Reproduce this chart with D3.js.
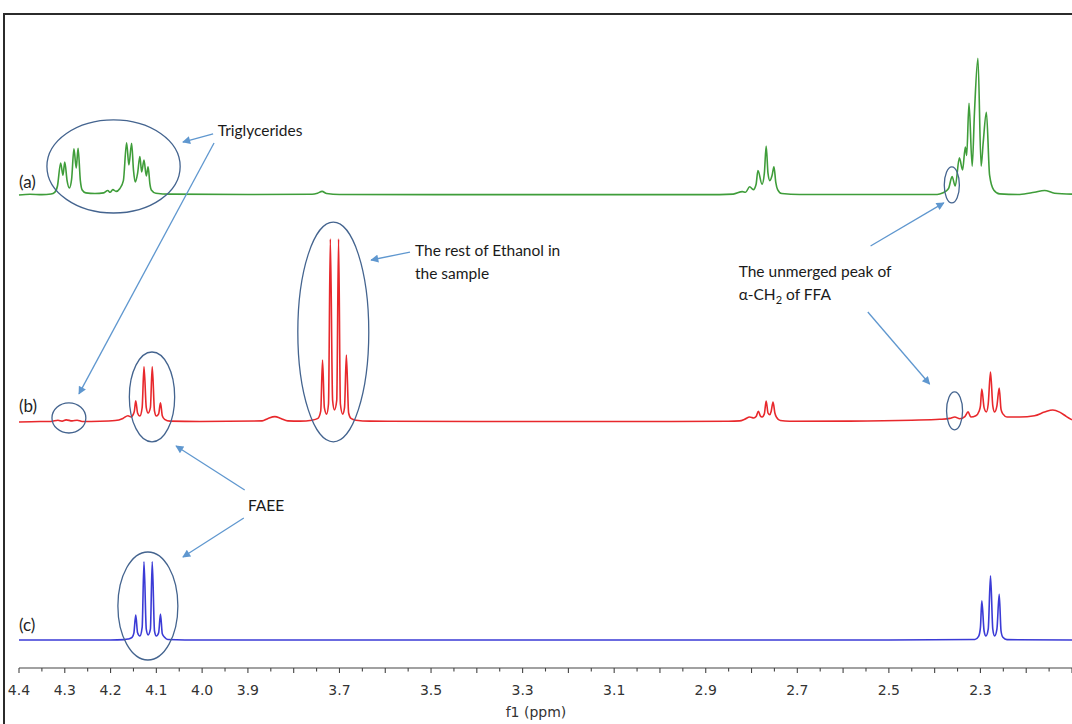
<!DOCTYPE html>
<html>
<head>
<meta charset="utf-8">
<script src="https://cdn.jsdelivr.net/npm/d3@7"></script>
<style>
  html, body { margin: 0; padding: 0; background: #fff; }
  svg { display: block; }
</style>
</head>
<body>
<svg id="chart" width="1072" height="724"></svg>
<script>
// ---------- data: 1H NMR traces, [chemical shift (ppm), relative intensity] ----------
const traceNames = ["(a)", "(b)", "(c)"];
const traceColors = ["#3f9d3a", "#e8282c", "#3b3bd6"];

// (a) oil / triglycerides
const spectrumA = [
  [4.400,0.0],[4.376,0.4],[4.350,0.2],[4.330,0.6],[4.322,1.5],[4.316,5],[4.309,17.8],[4.304,11],
  [4.300,18.3],[4.295,8],[4.290,3.9],[4.285,9],[4.280,25.6],[4.275,15],[4.271,26],[4.266,8],
  [4.262,2.8],[4.254,1.2],[4.234,0.8],[4.215,1.2],[4.206,2.5],[4.201,1.5],[4.195,3],[4.188,2],
  [4.180,3.5],[4.172,8],[4.165,29],[4.160,16.7],[4.154,28.7],[4.150,14],[4.146,7.2],[4.141,12],
  [4.136,21.3],[4.132,12.8],[4.127,19.4],[4.122,10.6],[4.118,15.7],[4.114,6],[4.111,2.8],[4.101,1],
  [4.070,0.5],[3.900,0.3],[3.760,0.4],[3.748,1],[3.738,2],[3.728,0.8],[3.700,0.3],[3.300,0.2],
  [2.900,0.2],[2.840,0.5],[2.820,1.9],[2.813,1.5],[2.804,4.6],[2.796,3],[2.790,6],[2.786,13.6],
  [2.777,6],[2.772,12],[2.768,27.2],[2.764,12],[2.760,8],[2.755,11],[2.751,15.7],[2.747,7],
  [2.743,3],[2.734,0.8],[2.695,0.3],[2.400,0.3],[2.389,0.6],[2.376,2],[2.369,4],[2.362,10.2],
  [2.355,5],[2.346,20.6],[2.339,13.9],[2.333,26.7],[2.330,22],[2.325,51],[2.318,16],[2.313,46],
  [2.3055,76],[2.2985,16],[2.294,29],[2.287,46],[2.280,11],[2.271,2.8],[2.258,0.6],[2.214,0.3],
  [2.182,1.5],[2.160,2.5],[2.138,1],[2.100,0.5]
];

// (b) reaction mixture
const spectrumB = [
  [4.400,0],[4.354,0.3],[4.330,0.3],[4.315,1],[4.306,0.5],[4.297,1.2],[4.284,0.6],[4.273,1],
  [4.262,0.3],[4.223,0.4],[4.190,0.8],[4.173,2],[4.162,3.5],[4.155,2.8],[4.151,4],[4.148,6],
  [4.145,11.8],[4.141,5],[4.136,3.3],[4.131,8],[4.127,30.7],[4.122,8],[4.118,5],[4.113,8],
  [4.109,30.7],[4.104,6],[4.100,3.3],[4.095,4.5],[4.091,10.6],[4.087,3.5],[4.082,1.5],[4.070,0.5],
  [4.005,0.3],[3.869,0.6],[3.856,2],[3.841,3],[3.828,2],[3.813,0.6],[3.786,0.5],[3.760,1],
  [3.747,2],[3.741,6],[3.737,34.4],[3.733,8],[3.728,4.4],[3.724,10],[3.720,101.7],[3.715,12],
  [3.711,6.7],[3.706,12],[3.702,101.7],[3.698,10],[3.693,4.4],[3.689,8],[3.685,37.2],[3.680,5],
  [3.675,2],[3.664,1],[3.634,0.5],[3.400,0.3],[3.000,0.3],[2.850,0.4],[2.826,0.6],[2.815,1.5],
  [2.804,2.8],[2.795,2.2],[2.790,3],[2.785,6],[2.781,3.5],[2.777,2.8],[2.772,4.5],[2.768,11.7],
  [2.764,5],[2.760,4],[2.757,6],[2.753,11.1],[2.749,5],[2.745,2.5],[2.737,0.8],[2.717,0.4],
  [2.586,0.5],[2.450,1],[2.389,1.5],[2.367,2],[2.356,2.8],[2.345,1.8],[2.334,3],[2.327,5.6],
  [2.321,2.8],[2.310,3.5],[2.303,6],[2.300,9],[2.297,18.3],[2.292,8],[2.287,5.6],[2.283,10],
  [2.278,27.8],[2.273,9],[2.269,5.6],[2.264,9],[2.259,18.9],[2.255,7],[2.251,4.5],[2.242,2.8],
  [2.214,2.8],[2.182,3.5],[2.160,5.5],[2.142,6.7],[2.127,5.5],[2.112,3],[2.100,1.2]
];

// (c) purified ethyl esters
const spectrumC = [
  [4.400,0],[4.200,0],[4.170,0.2],[4.162,0.5],[4.153,1.5],[4.149,4],[4.145,13.9],[4.141,4],
  [4.136,2.2],[4.131,7],[4.127,43.5],[4.122,6],[4.118,2.8],[4.113,6],[4.109,43.5],[4.104,5],
  [4.100,2.2],[4.095,4],[4.091,14.4],[4.087,3.5],[4.082,1.5],[4.075,0.3],[4.000,0],[2.500,0],
  [2.312,0.3],[2.304,2],[2.300,7],[2.297,21.8],[2.292,5],[2.288,2.2],[2.283,6],[2.278,35.6],
  [2.273,6],[2.269,2.2],[2.264,6],[2.259,25.4],[2.255,5],[2.251,1.5],[2.242,0.2],[2.100,0]
];

const spectra = [spectrumA, spectrumB, spectrumC];

// axis ticks (ppm)
const tickLabels = [4.4, 4.3, 4.2, 4.1, 4.0, 3.9, 3.7, 3.5, 3.3, 3.1, 2.9, 2.7, 2.5, 2.3];
const axisTitle = "f1 (ppm)";

// circled regions: trace index, ppm span, intensity span
const circles = [
  { trace: 0, ppm: [4.339, 4.048], int: [41.7, -10] },
  { trace: 0, ppm: [2.379, 2.346], int: [15.6, -4.4] },
  { trace: 1, ppm: [3.791, 3.636], int: [111, -11] },
  { trace: 1, ppm: [4.159, 4.060], int: [38.9, -11] },
  { trace: 1, ppm: [4.328, 4.254], int: [10.6, -6.1] },
  { trace: 1, ppm: [2.374, 2.339], int: [16.7, -4.4] },
  { trace: 2, ppm: [4.184, 4.053], int: [48.9, -11.1] }
];

// callout arrows: [ppm, trace, intensity] from -> to
const arrows = [
  { from: [3.976, 0, 33.9], to: [4.042, 0, 29.4] },
  { from: [3.974, 0, 28.9], to: [4.269, 1, 15.6] },
  { from: [3.546, 1, 94.4], to: [3.631, 1, 90] },
  { from: [2.540, 0, -28.3], to: [2.380, 0, -4.4] },
  { from: [2.546, 1, 61.1], to: [2.411, 1, 21.1] },
  { from: [3.907, 1, -37.8], to: [4.057, 1, -13.3] },
  { from: [3.909, 2, 67.8], to: [4.042, 2, 46.1] }
];

// callout texts: anchor [ppm, trace, intensity], lines
const notes = [
  { at: [3.966, 0, 32.8], lines: ["Triglycerides"] },
  { at: [3.535, 1, 92.2], lines: ["The rest of Ethanol in", "the sample"] },
  { at: [2.828, 1, 80.6], lines: ["The unmerged peak of", ["α-CH", "2", " of FFA"]] },
  { at: [3.900, 2, 71.7], lines: ["FAEE"] }
];

// ---------- layout ----------
const W = 1072, H = 724;
const baseY = [195, 422, 640];         // baseline of each stacked trace
const axisY = 668;

const svg = d3.select("#chart");

const x = d3.scaleLinear().domain([4.4, 2.1]).range([19, 1072]);
const h = d3.scaleLinear().domain([0, 100]).range([0, 180]);
const px = (p) => [x(p[0]), baseY[p[1]] - h(p[2])];

// outer frame
svg.append("rect")
  .attr("x", 4).attr("y", 14).attr("width", W + 20).attr("height", H + 20)
  .attr("fill", "none").attr("stroke", "#2b2b2b").attr("stroke-width", 2);

svg.append("defs").append("clipPath").attr("id", "plotClip")
  .append("rect").attr("x", 5).attr("y", 15).attr("width", W).attr("height", H);

// spectra
const plot = svg.append("g").attr("clip-path", "url(#plotClip)");
spectra.forEach((s, i) => {
  const line = d3.line()
    .x(d => x(d[0]))
    .y(d => baseY[i] - h(d[1]))
    .curve(d3.curveMonotoneX);
  plot.append("path")
    .datum(s)
    .attr("d", line)
    .attr("fill", "none")
    .attr("stroke", traceColors[i])
    .attr("stroke-width", 1.6)
    .attr("stroke-linejoin", "round");
});

// trace labels
svg.selectAll("text.trace")
  .data(traceNames)
  .join("text")
  .attr("class", "trace")
  .attr("x", 19)
  .attr("y", (d, i) => baseY[i] - [7, 10, 9][i])
  .attr("font-family", "Lato, 'Open Sans', sans-serif")
  .attr("font-size", 17)
  .attr("fill", "#1e1e1e")
  .text(d => d);

// circled regions
svg.append("g").selectAll("ellipse")
  .data(circles)
  .join("ellipse")
  .attr("cx", d => (x(d.ppm[0]) + x(d.ppm[1])) / 2)
  .attr("cy", d => baseY[d.trace] - (h(d.int[0]) + h(d.int[1])) / 2)
  .attr("rx", d => Math.abs(x(d.ppm[1]) - x(d.ppm[0])) / 2)
  .attr("ry", d => Math.abs(h(d.int[0]) - h(d.int[1])) / 2)
  .attr("fill", "none")
  .attr("stroke", "#44648f")
  .attr("stroke-width", 1.3);

// arrows
const arrowColor = "#5f97cf";
svg.select("defs").append("marker")
  .attr("id", "head")
  .attr("viewBox", "0 0 10 10")
  .attr("refX", 9).attr("refY", 5)
  .attr("markerWidth", 10).attr("markerHeight", 8)
  .attr("markerUnits", "userSpaceOnUse")
  .attr("orient", "auto")
  .append("path").attr("d", "M0,0 L10,5 L0,10 z").attr("fill", arrowColor);

svg.append("g").selectAll("line")
  .data(arrows)
  .join("line")
  .attr("x1", d => px(d.from)[0]).attr("y1", d => px(d.from)[1])
  .attr("x2", d => px(d.to)[0]).attr("y2", d => px(d.to)[1])
  .attr("stroke", arrowColor)
  .attr("stroke-width", 1.3)
  .attr("marker-end", "url(#head)");

// callout texts
const noteG = svg.append("g")
  .attr("font-family", "Lato, 'Open Sans', sans-serif")
  .attr("font-size", 15.5)
  .attr("fill", "#1a1a1a");
notes.forEach(n => {
  const [tx, ty] = px(n.at);
  n.lines.forEach((ln, k) => {
    const t = noteG.append("text").attr("x", tx).attr("y", ty + k * 23);
    if (Array.isArray(ln)) {
      t.append("tspan").text(ln[0]);
      t.append("tspan").attr("font-size", 11).attr("dy", 4).text(ln[1]);
      t.append("tspan").attr("dy", -4).text(ln[2]);
    } else {
      t.text(ln);
    }
  });
});

// chemical shift axis
const axisG = svg.append("g").attr("transform", `translate(0,${axisY})`);
axisG.append("line")
  .attr("x1", x(4.4)).attr("x2", W)
  .attr("stroke", "#444").attr("stroke-width", 1.2);

const minor = d3.range(0, 47).map(i => +(4.4 - i * 0.05).toFixed(2));
axisG.selectAll("line.tick")
  .data(minor)
  .join("line")
  .attr("class", "tick")
  .attr("x1", d => x(d)).attr("x2", d => x(d))
  .attr("y1", 0)
  .attr("y2", d => (Math.round(d * 100) % 10 === 0 ? 5 : 3.5))
  .attr("stroke", "#444").attr("stroke-width", 1.1);

axisG.selectAll("text.lbl")
  .data(tickLabels)
  .join("text")
  .attr("class", "lbl")
  .attr("x", d => x(d))
  .attr("y", 27)
  .attr("text-anchor", "middle")
  .attr("font-family", "'DejaVu Sans', sans-serif")
  .attr("font-size", 14)
  .attr("fill", "#333")
  .text(d => d.toFixed(1));

svg.append("text")
  .attr("x", 536).attr("y", 717)
  .attr("text-anchor", "middle")
  .attr("font-family", "'DejaVu Sans', sans-serif")
  .attr("font-size", 14)
  .attr("fill", "#333")
  .text(axisTitle);
</script>
</body>
</html>
